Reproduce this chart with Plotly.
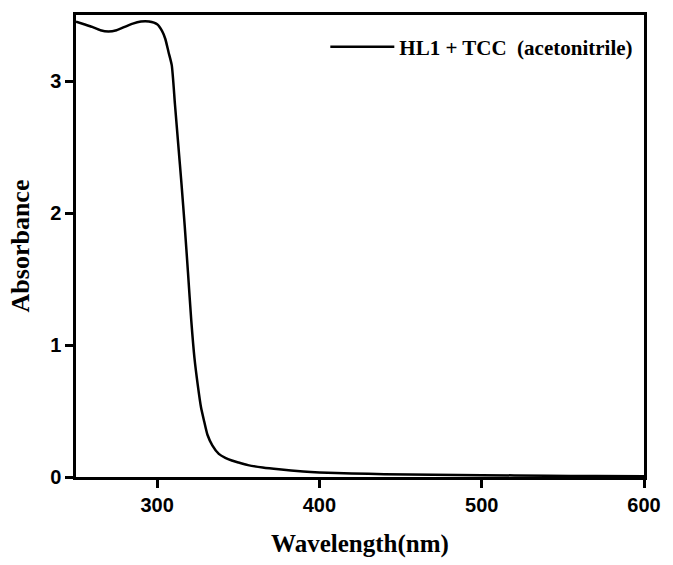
import plotly.graph_objects as go

wavelength = [250, 255, 260, 265, 270, 275, 280, 285, 290, 295, 300, 303, 305, 307, 309,
              311, 313, 315, 317, 319, 321, 323, 325, 327, 329, 331, 334, 338, 342, 346,
              350, 356, 365, 375, 390, 400, 420, 440, 470, 500, 540, 570, 600]
absorbance = [3.45, 3.43, 3.41, 3.385, 3.375, 3.385, 3.41, 3.435, 3.45, 3.45, 3.43, 3.38, 3.32, 3.22, 3.12,
              2.82, 2.52, 2.22, 1.90, 1.55, 1.19, 0.90, 0.70, 0.53, 0.42, 0.32, 0.24, 0.175, 0.145, 0.125,
              0.11, 0.09, 0.072, 0.058, 0.042, 0.035, 0.027, 0.021, 0.017, 0.014, 0.010, 0.007, 0.005]
series_name = "HL1 + TCC  (acetonitrile)"
x_ticks = [300, 400, 500, 600]
y_ticks = [0, 1, 2, 3]

fig = go.Figure()
fig.add_trace(go.Scatter(
    x=wavelength, y=absorbance, mode="lines", name=series_name,
    line=dict(color="black", width=2.5, shape="spline", smoothing=0.6),
    showlegend=True,
))

axis_common = dict(
    showline=True, linecolor="black", linewidth=2.5, mirror=True,
    ticks="outside", ticklen=8, tickwidth=2.5, tickcolor="black",
    showgrid=False, zeroline=False,
    tickfont=dict(family="Liberation Sans", size=20, color="black", weight="bold"),
)

fig.update_layout(
    width=673, height=565,
    margin=dict(l=76, r=20, t=14, b=81),
    paper_bgcolor="white", plot_bgcolor="white",
    xaxis=dict(range=[250, 600], tickvals=x_ticks,
               title=dict(text="<b>Wavelength(nm)</b>", standoff=20,
                          font=dict(family="Liberation Serif", size=25, color="black")),
               **axis_common),
    yaxis=dict(range=[0, 3.5], tickvals=y_ticks,
               title=dict(text="<b>Absorbance</b>", standoff=14,
                          font=dict(family="Liberation Serif", size=26, color="black")),
               **axis_common),
    legend=dict(x=0.99, xanchor="right", y=0.975, yanchor="top",
                bgcolor="rgba(0,0,0,0)", borderwidth=0, itemwidth=64,
                font=dict(family="Liberation Serif", size=21, color="black", weight="bold")),
)

fig.write_html("out.html")
